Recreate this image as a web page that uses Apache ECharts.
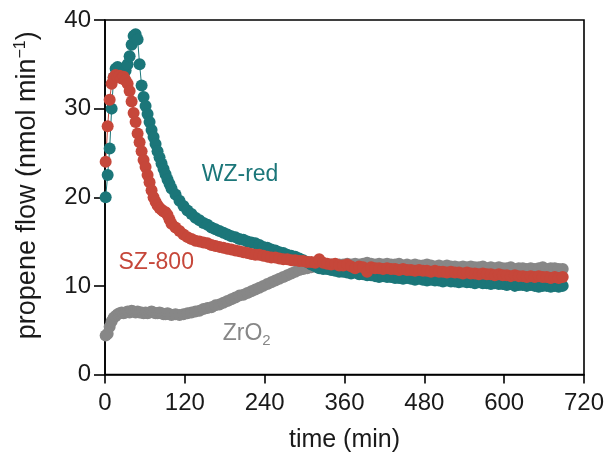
<!DOCTYPE html>
<html>
<head>
<meta charset="utf-8">
<script src="https://cdn.jsdelivr.net/npm/echarts@6/dist/echarts.min.js"></script>
<style>html,body{margin:0;padding:0;background:#fff;}#c{width:614px;height:461px;}</style>
</head>
<body>
<div id="c"></div>
<script>
var times = [1,4,7,10,13,16,19,22,25,28,31,34,37,40,43,46,49,52,55,58,61,64,67,70,73,76,79,82,85,88,91,94,97,100,
106,112,118,124,130,136,142,148,154,160,166,172,178,184,190,196,202,208,214,220,226,232,238,244,250,256,262,268,274,280,
286,292,298,304,310,316,322,328,334,340,346,352,358,364,370,376,382,388,394,400,406,412,418,424,430,436,442,448,454,460,
466,472,478,484,490,496,502,508,514,520,526,532,538,544,550,556,562,568,574,580,586,592,598,604,610,616,622,628,634,640,
646,652,658,664,670,676,682,688];

var wzRed = [20.0,22.5,25.5,30.0,33.5,34.5,34.7,34.4,34.0,33.8,34.3,35.0,35.9,37.2,38.2,38.4,37.8,35.0,32.6,31.3,30.3,29.4,28.5,27.6,26.8,26.0,25.2,24.5,23.8,23.2,22.6,22.0,21.5,21.0,
20.3,19.6,19.0,18.5,18.1,17.7,17.4,17.1,16.9,16.6,16.4,16.2,16.0,15.8,15.6,15.5,15.3,15.2,15.0,14.9,14.8,14.6,14.4,14.3,14.1,14.0,13.8,13.7,13.5,13.4,
13.3,13.1,12.9,12.7,12.4,12.2,12.0,11.9,11.9,11.8,11.7,11.6,11.6,11.5,11.4,11.5,11.3,11.3,11.2,11.2,11.1,11.0,11.1,11.0,11.0,10.9,10.9,10.8,10.9,10.8,
10.7,10.8,10.7,10.6,10.7,10.6,10.6,10.5,10.6,10.5,10.5,10.4,10.5,10.4,10.4,10.3,10.4,10.3,10.3,10.2,10.3,10.2,10.2,10.1,10.2,10.0,10.1,10.1,10.0,10.1,
10.0,9.9,10.0,10.0,9.9,10.0,9.9,10.0];

var sz800 = [24.0,28.0,31.0,32.8,33.5,33.8,33.6,33.7,33.4,33.6,33.2,32.8,32.0,30.8,29.5,28.5,27.2,26.2,25.2,24.2,23.4,22.5,21.7,20.8,20.0,19.5,19.1,18.8,18.6,18.4,18.3,18.0,17.5,17.0,
16.6,16.2,15.8,15.5,15.3,15.1,15.0,14.9,14.8,14.6,14.5,14.4,14.3,14.2,14.1,14.0,13.9,13.8,13.7,13.6,13.5,13.5,13.4,13.3,13.2,13.2,13.1,13.0,13.0,12.9,
12.9,12.8,12.8,12.7,12.7,12.6,13.0,12.6,12.5,12.4,12.5,12.3,12.3,12.4,12.2,12.0,12.2,12.1,11.6,12.1,12.0,12.0,11.9,12.0,11.9,11.9,11.8,11.9,11.8,11.8,
11.7,11.8,11.7,11.7,11.6,11.7,11.6,11.6,11.5,11.6,11.5,11.5,11.4,11.5,11.4,11.4,11.3,11.4,11.3,11.3,11.2,11.3,11.2,11.2,11.1,11.2,11.1,11.1,11.0,11.1,
11.0,11.1,11.0,11.0,10.9,11.0,10.9,11.0];

var zrO2 = [4.4,4.6,5.4,6.0,6.4,6.6,6.8,6.9,7.0,6.9,7.0,7.1,7.0,7.2,7.1,7.0,7.1,7.0,7.0,6.9,7.0,6.9,7.0,7.1,7.0,6.9,6.9,7.0,6.9,6.8,6.8,6.9,6.8,6.7,
6.8,6.7,6.8,6.9,7.0,7.1,7.2,7.4,7.5,7.6,7.8,7.9,8.1,8.3,8.5,8.7,8.9,9.0,9.2,9.4,9.6,9.8,10.0,10.2,10.4,10.6,10.8,11.0,11.2,11.4,
11.6,11.8,11.9,12.0,12.1,12.2,12.2,12.3,12.3,12.4,12.3,12.4,12.4,12.5,12.4,12.5,12.4,12.5,12.6,12.5,12.4,12.5,12.4,12.5,12.4,12.4,12.5,12.3,12.4,12.3,
12.4,12.3,12.3,12.4,12.3,12.2,12.3,12.2,12.3,12.2,12.2,12.1,12.2,12.1,12.2,12.1,12.1,12.2,12.0,12.1,12.0,12.1,12.0,12.0,12.1,11.9,12.0,12.0,11.9,12.0,
11.9,12.0,12.1,11.9,12.0,12.0,11.9,11.9];

var xTicks = [0,120,240,360,480,600,720];
var yTicks = [0,10,20,30,40];
var colors = {'ZrO2':'#878787','WZ-red':'#1b7679','SZ-800':'#c6473a'};

function pairs(vals){ var out=[]; for(var i=0;i<vals.length && i<times.length;i++){ out.push([times[i], vals[i]]); } return out; }

var FONT = 'Liberation Sans, Arial, Helvetica, sans-serif';
var FS = 24;
var chart = echarts.init(document.getElementById('c'), null, {renderer:'canvas'});
function mk(name, vals){
  return {name:name, type:'line', data:pairs(vals), symbol:'circle', symbolSize:12,
    itemStyle:{color:colors[name], opacity:1}, lineStyle:{color:colors[name], width:1},
    animation:false, z:2};
}
var option = {
  animation:false,
  backgroundColor:'#fff',
  grid:{left:105, right:30, top:20, bottom:86.5, show:true, borderColor:'#000', borderWidth:1.6, backgroundColor:'transparent'},
  xAxis:{type:'value', min:xTicks[0], max:xTicks[xTicks.length-1], interval:120,
    name:'time (min)', nameLocation:'middle', nameGap:53,
    nameTextStyle:{fontFamily:FONT, fontSize:25, color:'#1a1a1a'},
    axisLine:{show:true, lineStyle:{color:'#000', width:1.6}},
    axisTick:{show:true, inside:false, length:9, lineStyle:{color:'#000', width:1.6}},
    axisLabel:{fontFamily:FONT, fontSize:FS, color:'#1a1a1a', margin:17},
    splitLine:{show:false}},
  yAxis:{type:'value', min:yTicks[0], max:yTicks[yTicks.length-1], interval:10,
    name:'propene flow (nmol min{sup|\u22121})', nameLocation:'middle', nameGap:62,
    nameTextStyle:{fontFamily:FONT, fontSize:27, color:'#1a1a1a', padding:[0,0,0,24],
      rich:{sup:{fontFamily:FONT, fontSize:16, color:'#1a1a1a', verticalAlign:'top', padding:[0,0,14,0]}}},
    axisLine:{show:true, lineStyle:{color:'#000', width:1.6}},
    axisTick:{show:true, inside:false, length:11, lineStyle:{color:'#000', width:1.6}},
    axisLabel:{fontFamily:FONT, fontSize:FS, color:'#1a1a1a', margin:14},
    splitLine:{show:false}},
  series:[mk('ZrO2', zrO2), mk('WZ-red', wzRed), mk('SZ-800', sz800)]
};
chart.setOption(option);

var labelPos = [
  {text:'WZ-red', at:[203, 22.6], color:colors['WZ-red']},
  {text:'SZ-800', at:[77, 12.65], color:colors['SZ-800']},
  {text:'ZrO{sub|2}', at:[213, 4.6], color:colors['ZrO2']}
];
var g = labelPos.map(function(l){
  var p = chart.convertToPixel({gridIndex:0}, l.at);
  return {type:'text', x:p[0], y:p[1], z:10,
    style:{text:l.text, fill:l.color, font:'23px ' + FONT, align:'center', verticalAlign:'middle',
      rich:{sub:{fill:l.color, font:'15px ' + FONT, padding:[14,0,0,0]}}}};
});
chart.setOption({graphic:g});
</script>
</body>
</html>
